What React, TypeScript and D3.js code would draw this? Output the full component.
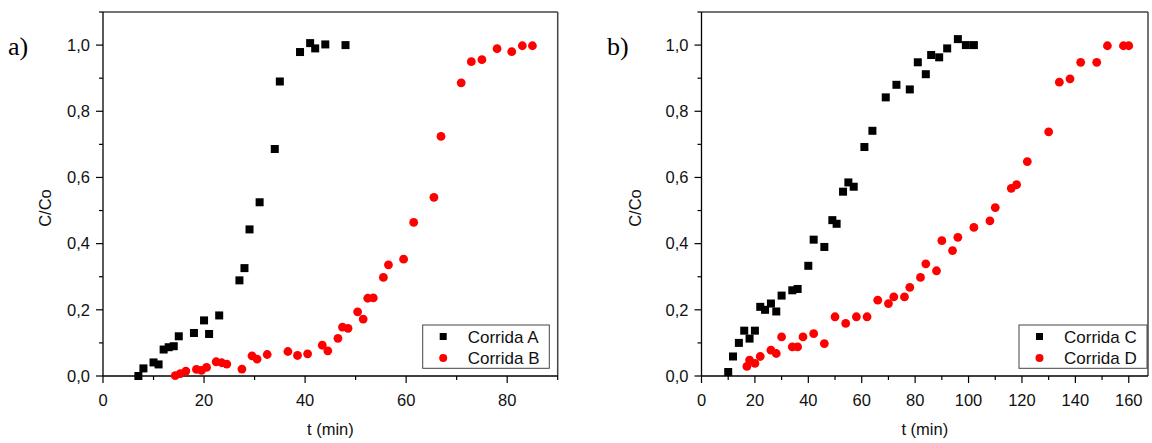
import React from 'react';
import * as d3 from 'd3';

// ---- Data ----
const tA = [7, 8, 10, 11, 12, 13, 14, 15, 18, 20, 21, 23, 27, 28, 29, 31, 34, 35, 39, 41, 42, 44, 48];
const cA = [0.0, 0.023, 0.041, 0.035, 0.08, 0.087, 0.09, 0.12, 0.13, 0.168, 0.127, 0.183, 0.289, 0.326, 0.443, 0.525, 0.686, 0.89, 0.979, 1.006, 0.99, 1.002, 1.0];

const tB = [14.3, 15.3, 16.4, 18.5, 19.5, 20.5, 22.4, 23.5, 24.5, 27.5, 29.5, 30.5, 32.5, 36.6, 38.5, 40.5, 43.4, 44.5, 46.5, 47.4, 48.5, 50.4, 51.5, 52.4, 53.5, 55.5, 56.5, 59.5, 61.5, 65.5, 66.9, 70.9, 72.9, 75, 78, 80.9, 83, 85];
const cB = [0.001, 0.007, 0.015, 0.02, 0.017, 0.026, 0.043, 0.04, 0.036, 0.021, 0.061, 0.051, 0.065, 0.074, 0.062, 0.067, 0.093, 0.076, 0.114, 0.148, 0.144, 0.194, 0.172, 0.235, 0.236, 0.298, 0.336, 0.353, 0.464, 0.54, 0.724, 0.886, 0.95, 0.956, 0.989, 0.98, 0.998, 0.998];

const tC = [10, 11.8, 14, 16, 18, 20, 22, 23.8, 26, 28, 30, 34, 36, 40, 42, 46, 49, 50.6, 53, 55, 57, 61, 64, 69, 73, 78, 81, 84, 86, 89, 92, 96, 99, 102];
const cC = [0.012, 0.059, 0.1, 0.137, 0.113, 0.137, 0.209, 0.2, 0.219, 0.195, 0.243, 0.259, 0.263, 0.333, 0.412, 0.39, 0.471, 0.46, 0.557, 0.585, 0.572, 0.692, 0.741, 0.842, 0.88, 0.866, 0.948, 0.912, 0.97, 0.963, 0.99, 1.018, 1.0, 1.0];

const tD = [17, 18, 20, 22, 26, 28, 30, 34, 36, 38, 42, 46, 50, 54, 58, 62, 66, 70, 72, 76, 78, 82, 84, 88, 90, 94, 96, 102, 108, 110, 116, 118, 122, 130, 134, 138, 142, 148, 152, 158, 160];
const cD = [0.029, 0.048, 0.038, 0.059, 0.078, 0.068, 0.118, 0.088, 0.088, 0.118, 0.128, 0.098, 0.179, 0.159, 0.179, 0.179, 0.229, 0.219, 0.239, 0.239, 0.268, 0.298, 0.339, 0.318, 0.409, 0.379, 0.419, 0.449, 0.469, 0.509, 0.567, 0.578, 0.648, 0.738, 0.888, 0.898, 0.948, 0.948, 0.998, 0.998, 0.998];

const yMajor = [0, 0.2, 0.4, 0.6, 0.8, 1.0];
const yMinor = [0.1, 0.3, 0.5, 0.7, 0.9, 1.1];
const xMajorA = [0, 20, 40, 60, 80];
const xMinorA = [10, 30, 50, 70, 90];
const xMajorB = [0, 20, 40, 60, 80, 100, 120, 140, 160];
const xMinorB = [10, 30, 50, 70, 90, 110, 130, 150];

const labelsA = ['Corrida A', 'Corrida B'];
const labelsB = ['Corrida C', 'Corrida D'];

const FONT = '"Liberation Sans", Arial, sans-serif';
const FS = 16.5;
const fmt = (v: number) => d3.format('.1f')(v).replace('.', ',');

type PanelProps = {
  left: number; right: number; top: number; bottom: number;
  xMax: number; xMajor: number[]; xMinor: number[];
  sq: { t: number[]; c: number[] }; ci: { t: number[]; c: number[] };
  labels: string[]; tag: string; tagX: number; yLabelX: number;
  legend: { x: number; y: number; w: number; h: number };
};

function Panel(p: PanelProps) {
  const x = d3.scaleLinear().domain([0, p.xMax]).range([p.left, p.right]);
  const y = d3.scaleLinear().domain([0, 1.1]).range([p.bottom, p.top]);
  const frame = '#444';
  const sqS = 8;
  return (
    <g>
      {/* frame top/right */}
      <line x1={p.left} x2={p.right} y1={p.top} y2={p.top} stroke={frame} strokeWidth={1.5} />
      <line x1={p.right} x2={p.right} y1={p.top} y2={p.bottom} stroke={frame} strokeWidth={1.5} />
      {/* axes */}
      <line x1={p.left} x2={p.left} y1={p.top} y2={p.bottom} stroke="#000" strokeWidth={1.3} />
      <line x1={p.left} x2={p.right} y1={p.bottom} y2={p.bottom} stroke="#000" strokeWidth={1.3} />
      {yMajor.map(v => (
        <g key={'ym' + v}>
          <line x1={p.left - 7} x2={p.left} y1={y(v)} y2={y(v)} stroke="#000" strokeWidth={1.2} />
          <text x={p.left - 13} y={y(v)} dy="0.35em" textAnchor="end" fontSize={FS} fontFamily={FONT} fill="#111">{fmt(v)}</text>
        </g>
      ))}
      {yMinor.map(v => (
        <line key={'yn' + v} x1={p.left - 4} x2={p.left} y1={y(v)} y2={y(v)} stroke="#000" strokeWidth={1.2} />
      ))}
      {p.xMajor.map(v => (
        <g key={'xm' + v}>
          <line x1={x(v)} x2={x(v)} y1={p.bottom} y2={p.bottom + 7} stroke="#000" strokeWidth={1.2} />
          <text x={x(v)} y={p.bottom + 30} textAnchor="middle" fontSize={FS} fontFamily={FONT} fill="#111">{v}</text>
        </g>
      ))}
      {p.xMinor.map(v => (
        <line key={'xn' + v} x1={x(v)} x2={x(v)} y1={p.bottom} y2={p.bottom + 4} stroke="#000" strokeWidth={1.2} />
      ))}
      <text x={(p.left + p.right) / 2} y={p.bottom + 59} textAnchor="middle" fontSize={FS} fontFamily={FONT} fill="#111">t (min)</text>
      <text transform={`translate(${p.yLabelX},${(p.top + p.bottom) / 2 + 14}) rotate(-90)`} textAnchor="middle" dy="0.35em" fontSize={FS} fontFamily={FONT} fill="#111">C/Co</text>
      <text x={p.tagX} y={55} fontSize={26} fontFamily='"Liberation Serif", "Times New Roman", serif' fill="#000">{p.tag}</text>
      {/* data */}
      {p.ci.t.map((t, i) => (
        <circle key={'c' + i} cx={x(t)} cy={y(p.ci.c[i])} r={4.4} fill="#ff0000" />
      ))}
      {p.sq.t.map((t, i) => (
        <rect key={'s' + i} x={x(t) - sqS / 2} y={y(p.sq.c[i]) - sqS / 2} width={sqS} height={sqS} fill="#000" />
      ))}
      {/* legend */}
      <rect x={p.legend.x} y={p.legend.y} width={p.legend.w} height={p.legend.h} fill="#fff" stroke={frame} strokeWidth={1} />
      <rect x={p.legend.x + 20.5 - 3.5} y={p.legend.y + 11.5 - 3.5} width={7} height={7} fill="#000" />
      <circle cx={p.legend.x + 20.5} cy={p.legend.y + 33} r={4} fill="#ff0000" />
      <text x={p.legend.x + 45} y={p.legend.y + 11.8} dy="0.35em" fontSize={17} fontFamily={FONT} fill="#111">{p.labels[0]}</text>
      <text x={p.legend.x + 45} y={p.legend.y + 33.3} dy="0.35em" fontSize={17} fontFamily={FONT} fill="#111">{p.labels[1]}</text>
    </g>
  );
}

export default function App() {
  return (
    <svg width={1152} height={443} style={{ position: 'absolute', left: 0, top: 0, background: '#fff' }}>
      <rect width={1152} height={443} fill="#fff" />
      <Panel left={103} right={557.7} top={12} bottom={376} xMax={90}
        xMajor={xMajorA} xMinor={xMinorA}
        sq={{ t: tA, c: cA }} ci={{ t: tB, c: cB }}
        labels={labelsA} tag="a)" tagX={8} yLabelX={45}
        legend={{ x: 422.7, y: 325, w: 126.6, h: 43.3 }} />
      <Panel left={701.5} right={1148} top={12} bottom={376} xMax={167.2}
        xMajor={xMajorB} xMinor={xMinorB}
        sq={{ t: tC, c: cC }} ci={{ t: tD, c: cD }}
        labels={labelsB} tag="b)" tagX={607} yLabelX={635}
        legend={{ x: 1019, y: 325, w: 128, h: 43.3 }} />
    </svg>
  );
}
